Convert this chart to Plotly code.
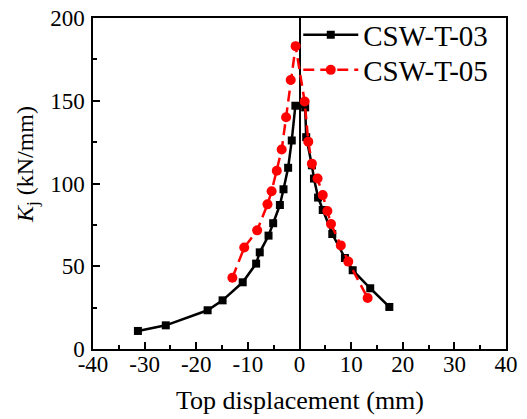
import plotly.graph_objects as go

# CSW-T-03 (black squares)
x03 = [-31.3, -25.9, -17.8, -14.9, -11.0, -8.4, -7.7, -6.0, -5.1, -3.8, -3.1, -2.2, -1.5, -0.8,
       1.1, 1.3, 2.4, 2.8, 3.6, 4.5, 6.35, 8.8, 10.3, 13.7, 17.4]
y03 = [10.9, 14.3, 23.4, 29.4, 40.3, 51.6, 58.4, 68.5, 76.0, 87.0, 96.5, 109.5, 126.0, 147.0,
       146.0, 128.0, 111.0, 103.0, 91.5, 84.0, 69.5, 55.0, 47.6, 36.7, 25.4]

# CSW-T-05 (red circles)
x05 = [-13.0, -10.7, -8.2, -6.2, -5.4, -4.4, -3.45, -2.6, -1.7, -0.75,
       1.0, 1.7, 2.4, 3.5, 4.5, 5.4, 6.1, 8.0, 9.45, 13.2]
y05 = [43.1, 61.3, 71.7, 87.4, 95.3, 107.7, 120.5, 140.0, 162.5, 183.0,
       149.5, 125.3, 112.0, 103.0, 93.0, 83.4, 75.5, 62.6, 52.8, 30.8]

# tick labels (hyphen-minus as in the reference)
x_tickvals = [-40, -30, -20, -10, 0, 10, 20, 30, 40]
x_ticktext = ["-40", "-30", "-20", "-10", "0", "10", "20", "30", "40"]
y_tickvals = [0, 50, 100, 150, 200]
y_ticktext = ["0", "50", "100", "150", "200"]

FONT = "Liberation Serif, Times New Roman, serif"

fig = go.Figure()
fig.add_trace(go.Scatter(
    x=x03, y=y03, name="CSW-T-03", mode="lines+markers",
    line=dict(color="black", width=2.5),
    marker=dict(symbol="square", size=8, color="black"),
    legend="legend",
))
fig.add_trace(go.Scatter(
    x=x05, y=y05, name="CSW-T-05", mode="lines+markers",
    line=dict(color="#ff0000", width=2.5, dash="11px,6px"),
    marker=dict(symbol="circle", size=10, color="#ff0000"),
    legend="legend2",
))

axis_common = dict(
    showline=True, linecolor="black", linewidth=1.5, mirror=True,
    ticks="inside", ticklen=7, tickwidth=1.5, tickcolor="black",
    showgrid=False, automargin=False, ticklabeloverflow="allow",
    tickfont=dict(family=FONT, size=23, color="black"),
)

fig.update_xaxes(
    range=[-40, 40], tickmode="array", tickvals=x_tickvals, ticktext=x_ticktext,
    minor=dict(dtick=5, tick0=0, ticks="inside", ticklen=4, tickwidth=1.5, tickcolor="black", showgrid=False),
    zeroline=True, zerolinecolor="black", zerolinewidth=1.8,
    ticklabelstandoff=-6,
    **axis_common,
)
fig.update_yaxes(
    range=[0, 200], tickmode="array", tickvals=y_tickvals, ticktext=y_ticktext,
    minor=dict(dtick=25, tick0=0, ticks="inside", ticklen=4, tickwidth=1.5, tickcolor="black", showgrid=False),
    zeroline=False,
    ticklabelstandoff=2,
    **axis_common,
)

fig.add_annotation(
    text="Top displacement (mm)", xref="paper", yref="paper",
    x=0.5, y=(349 - 400) / 331, xanchor="center", yanchor="middle",
    showarrow=False, font=dict(family=FONT, size=26, color="black"),
)
fig.add_annotation(
    text="<i>K</i><sub>j</sub> (kN/mm)", xref="paper", yref="paper",
    x=(27 - 93) / 413, y=(349 - 165) / 331, xanchor="center", yanchor="middle",
    textangle=-90, showarrow=False, font=dict(family=FONT, size=24, color="black"),
)

legend_style = dict(
    xanchor="left", yanchor="middle",
    bgcolor="rgba(0,0,0,0)", borderwidth=0,
    font=dict(family=FONT, size=29, color="black"),
    itemwidth=55,
)

# page body has an 8px offset; margins chosen so the plot area sits at x 93-506, y 18-349
fig.update_layout(
    width=527, height=419,
    margin=dict(l=85, r=29, t=10, b=78, autoexpand=False),
    paper_bgcolor="white", plot_bgcolor="white",
    showlegend=True,
    legend=dict(x=0.497, y=(349 - 35) / 331, **legend_style),
    legend2=dict(x=0.497, y=(349 - 70) / 331, **legend_style),
)

fig.write_html("out.html")
